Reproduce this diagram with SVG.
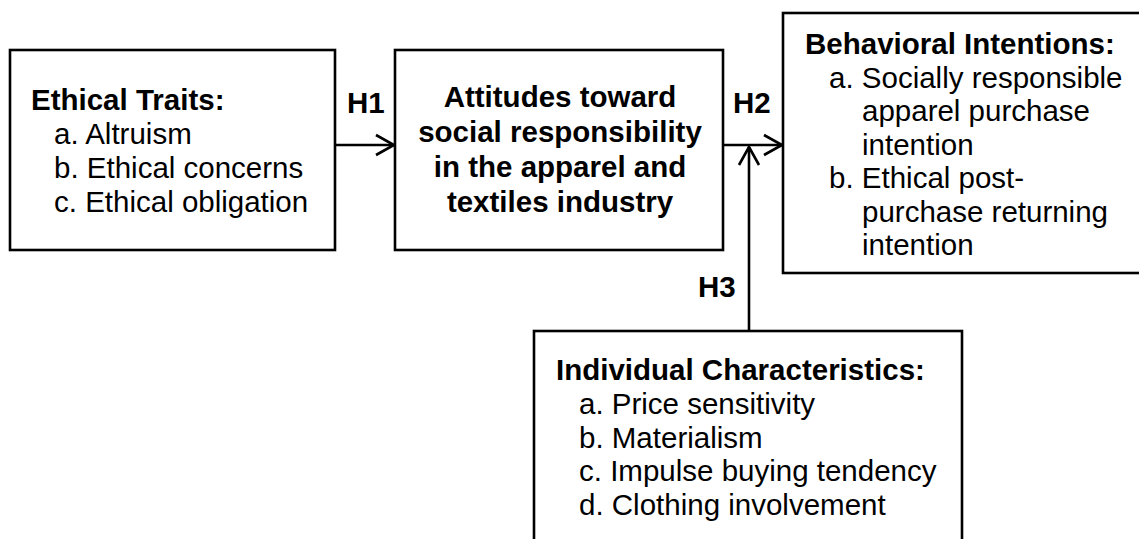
<svg xmlns="http://www.w3.org/2000/svg" width="1139" height="539" viewBox="0 0 1139 539">
<defs>
<marker id="arr" markerUnits="userSpaceOnUse" markerWidth="24" markerHeight="24" viewBox="-20 -12 24 24" refX="0" refY="0" orient="auto">
<path d="M-18,-10 L0,0 L-18,10" fill="none" stroke="#000" stroke-width="2.6"/>
</marker>
<style>
.box{fill:#fff;stroke:#000;stroke-width:2.6}
.t{font-family:"Liberation Sans",Arial,sans-serif;font-size:29.5px;fill:#000}
.b{font-weight:bold}
.ln{fill:none;stroke:#000;stroke-width:2.6}
</style>
</defs>
<rect width="1139" height="539" fill="#fff"/>
<g id="connectors">
<line class="ln" x1="335" y1="145" x2="394" y2="145" marker-end="url(#arr)"/>
<line class="ln" x1="723" y1="145" x2="782" y2="145" marker-end="url(#arr)"/>
<line class="ln" x1="749" y1="331" x2="749" y2="147" marker-end="url(#arr)"/>
<text class="t b" x="347" y="113">H1</text>
<text class="t b" x="733" y="113">H2</text>
<text class="t b" x="698" y="297">H3</text>
</g>
<g id="ethical-traits">
<rect class="box" x="10" y="50" width="325" height="200"/>
<text class="t b" x="31" y="110">Ethical Traits:</text>
<text class="t" x="54" y="144">a. Altruism</text>
<text class="t" x="54" y="178">b. Ethical concerns</text>
<text class="t" x="54" y="212">c. Ethical obligation</text>
</g>
<g id="attitudes">
<rect class="box" x="395" y="50" width="328" height="200"/>
<text class="t b" text-anchor="middle" x="560" y="107">Attitudes toward</text>
<text class="t b" text-anchor="middle" x="560" y="142">social responsibility</text>
<text class="t b" text-anchor="middle" x="560" y="177">in the apparel and</text>
<text class="t b" text-anchor="middle" x="560" y="212">textiles industry</text>
</g>
<g id="behavioral-intentions">
<rect class="box" x="783" y="13" width="365" height="260"/>
<text class="t b" x="805" y="54">Behavioral Intentions:</text>
<text class="t" x="829" y="88">a. Socially responsible</text>
<text class="t" x="862" y="121">apparel purchase</text>
<text class="t" x="862" y="155">intention</text>
<text class="t" x="829" y="188">b. Ethical post-</text>
<text class="t" x="862" y="222">purchase returning</text>
<text class="t" x="862" y="255">intention</text>
</g>
<g id="individual-characteristics">
<rect class="box" x="534" y="331" width="428" height="220"/>
<text class="t b" x="556" y="380">Individual Characteristics:</text>
<text class="t" x="579" y="414">a. Price sensitivity</text>
<text class="t" x="579" y="448">b. Materialism</text>
<text class="t" x="579" y="481">c. Impulse buying tendency</text>
<text class="t" x="579" y="515">d. Clothing involvement</text>
</g>
</svg>
